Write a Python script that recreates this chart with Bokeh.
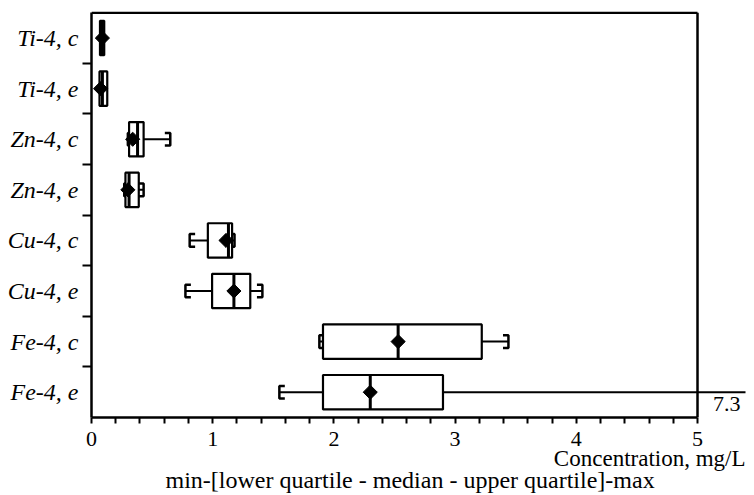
import math
from bokeh.plotting import figure
from bokeh.models import FixedTicker, Range1d, Title
from bokeh.core.properties import value
from bokeh.embed import file_html
from bokeh.resources import INLINE

# ---- data ----
categories = ["Ti-4, c", "Ti-4, e", "Zn-4, c", "Zn-4, e",
              "Cu-4, c", "Cu-4, e", "Fe-4, c", "Fe-4, e"]
mins    = [0.070, 0.066, 0.30, 0.27, 0.81, 0.775, 1.88, 1.55]
q1s     = [0.070, 0.066, 0.31, 0.28, 0.96, 0.995, 1.91, 1.91]
medians = [0.090, 0.090, 0.38, 0.31, 1.13, 1.175, 2.53, 2.30]
q3s     = [0.105, 0.130, 0.43, 0.39, 1.16, 1.31, 3.22, 2.90]
maxs    = [0.105, 0.130, 0.65, 0.43, 1.18, 1.41, 3.44, 7.30]
means   = [0.090, 0.075, 0.34, 0.30, 1.11, 1.175, 2.53, 2.30]
x_ticks = [0, 1, 2, 3, 4, 5]
x_minor = [0.2, 0.4, 0.6, 0.8, 1.2, 1.4, 1.6, 1.8, 2.2, 2.4, 2.6, 2.8,
           3.2, 3.4, 3.6, 3.8, 4.2, 4.4, 4.6, 4.8]
axis_max = 5
off_scale_label = ["7.3"]
off_scale_x = [5.355]
x_title = "Concentration, mg/L"
x_subtitle = "min-[lower quartile - median - upper quartile]-max"

FONT = "Liberation Serif"
n = len(categories)
ys = [n - 0.5 - i for i in range(n)]
half = 0.34
cap_h = 0.125
cap_w = 0.045

p = figure(width=754, height=495, output_backend="svg", toolbar_location=None,
           x_range=Range1d(0, 5.396), y_range=Range1d(0, n + 0.025),
           min_border_left=91, min_border_right=9, min_border_top=11,
           min_border_bottom=78)
p.outline_line_color = None
p.xgrid.visible = False
p.ygrid.visible = False
p.background_fill_color = "white"

# x axis
xa = p.xaxis[0]
xa.ticker = FixedTicker(ticks=x_ticks, minor_ticks=x_minor)
xa.bounds = (0, axis_max)
xa.axis_line_width = 2.5
xa.major_tick_line_width = 2
xa.minor_tick_line_width = 2
xa.major_tick_in = 0
xa.major_tick_out = 6
xa.minor_tick_in = 0
xa.minor_tick_out = 6
xa.major_label_standoff = 8
xa.major_label_text_font = FONT
xa.major_label_text_font_size = "22px"
xa.major_label_text_color = "black"

# y axis (labels at row centres, ticks at row boundaries)
ya = p.yaxis[0]
ya.ticker = FixedTicker(ticks=ys, minor_ticks=list(range(1, n)))
ya.bounds = (0, n)
ya.major_label_overrides = {y: c for y, c in zip(ys, categories)}
ya.axis_line_width = 2.5
ya.major_tick_line_color = None
ya.major_tick_in = 0
ya.major_tick_out = 8
ya.minor_tick_in = 0
ya.minor_tick_out = 9
ya.minor_tick_line_width = 2
ya.major_label_standoff = 4
ya.major_label_text_font = FONT
ya.major_label_text_font_style = "italic"
ya.major_label_text_font_size = "24px"
ya.major_label_text_color = "black"

# frame top and right edge at x = 5
p.segment(x0=[0], y0=[n], x1=[axis_max], y1=[n], line_color="black", line_width=2.5)
p.segment(x0=[axis_max], y0=[0], x1=[axis_max], y1=[n], line_color="black", line_width=2.5)

# whiskers
p.segment(x0=mins, y0=ys, x1=q1s, y1=ys, line_color="black", line_width=2)
p.segment(x0=q3s, y0=ys, x1=maxs, y1=ys, line_color="black", line_width=2)

# caps
cxs, cys = [], []
for lo, q1, q3, hi, y in zip(mins, q1s, q3s, maxs, ys):
    if lo < q1:
        cxs.append([lo + cap_w, lo, lo, lo + cap_w])
        cys.append([y + cap_h, y + cap_h, y - cap_h, y - cap_h])
    if hi > q3:
        cxs.append([hi - cap_w, hi, hi, hi - cap_w])
        cys.append([y + cap_h, y + cap_h, y - cap_h, y - cap_h])
p.multi_line(xs=cxs, ys=cys, line_color="black", line_width=2.5)

# boxes
p.quad(left=q1s, right=q3s, bottom=[y - half for y in ys], top=[y + half for y in ys],
       fill_color="white", line_color="black", line_width=2.2)
# medians
p.segment(x0=medians, y0=[y - half for y in ys], x1=medians, y1=[y + half for y in ys],
          line_color="black", line_width=3)
# means
p.scatter(x=means, y=ys, marker="square", angle=math.pi / 4, size=10,
          fill_color="black", line_color="black")

# off-scale maximum value
p.text(x=off_scale_x, y=[0.4], text=off_scale_label, text_align="right",
       text_baseline="top", text_font=value(FONT), text_font_size="22px",
       text_color="black")

# texts below the axis
t1 = Title(text=x_title, align="right", text_font=FONT, text_font_size="23px",
           text_font_style="normal", text_color="black", standoff=-9)
t2 = Title(text=x_subtitle, align="left", offset=74, text_font=FONT,
           text_font_size="24px", text_font_style="normal", text_color="black",
           standoff=-4)
p.add_layout(t1, "below")
p.add_layout(t2, "below")

open("out.html", "w").write(file_html(p, INLINE))
